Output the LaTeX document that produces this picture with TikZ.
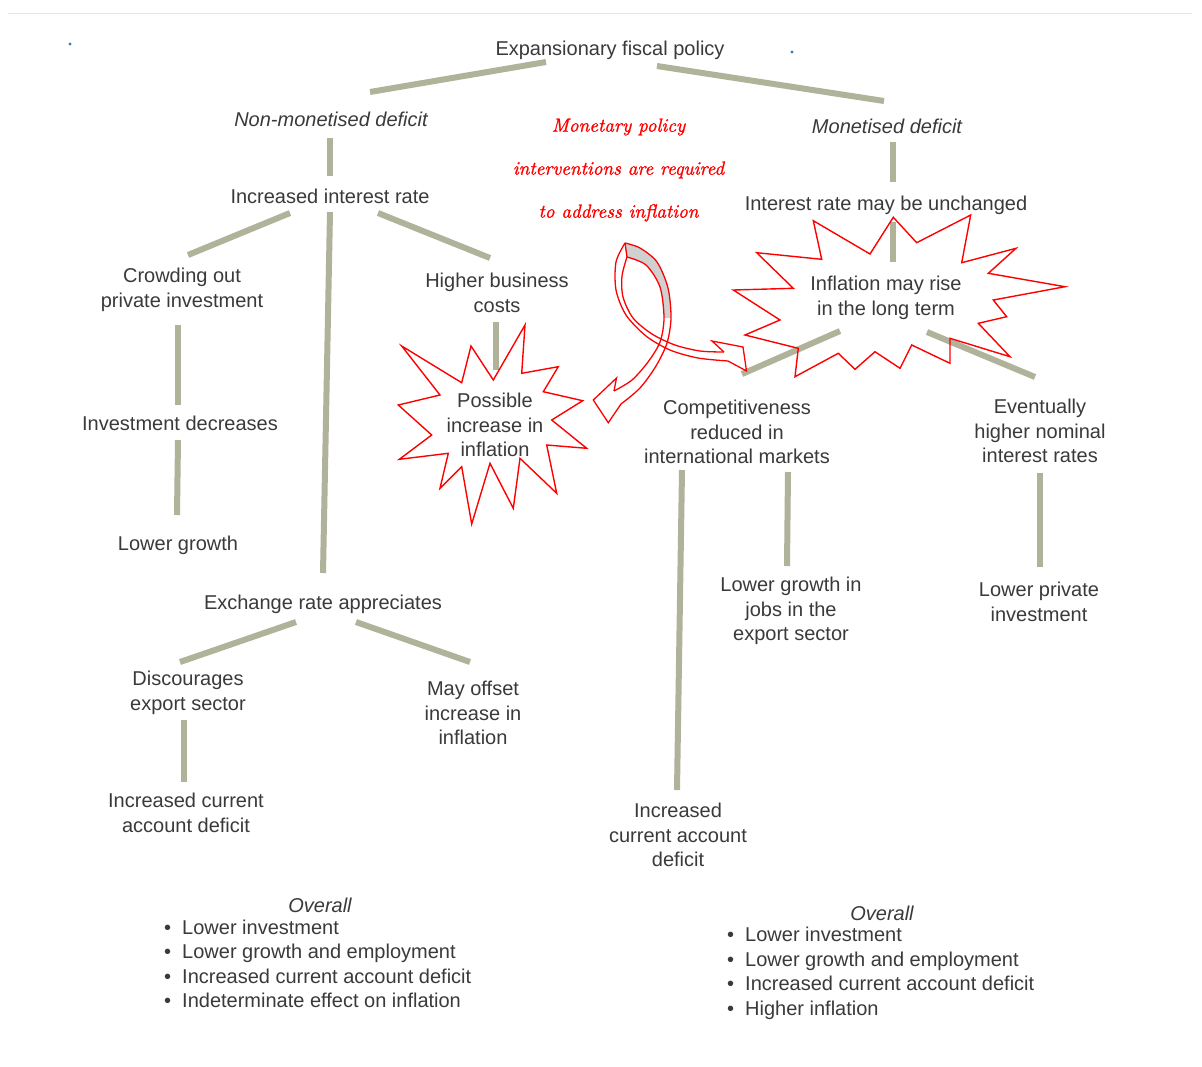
\documentclass[tikz,border=0pt]{standalone}
\usepackage{fontspec}
\newfontfamily\diagfont{Liberation Sans}
\newfontfamily\handfont{lmroman10-italic.otf}[FakeBold=1.2]
\definecolor{textgray}{HTML}{3A3A3A}
\definecolor{conncol}{HTML}{B0B29A}
\definecolor{ribbongray}{HTML}{D0D0D0}
\definecolor{dotblue}{HTML}{2F7FC0}
\begin{document}
\begin{tikzpicture}[x=1pt,y=-1pt,
  txt/.style={font=\diagfont\fontsize{20}{24.5}\selectfont, text=textgray, align=center, inner sep=0pt},
  itx/.style={font=\diagfont\itshape\fontsize{20}{24.5}\selectfont, text=textgray, align=center, inner sep=0pt},
  conn/.style={draw=conncol, line width=6pt},
  burst/.style={draw=red, line width=1.4pt, line join=miter},
  ribbon/.style={draw=red, line width=1.3pt},
  hand/.style={font=\handfont\fontsize{19}{43}\selectfont, text=red, align=center, inner sep=0pt}
]
\useasboundingbox[fill=white] (0,0) rectangle (1202,1066);
\draw[gray!20, line width=1pt] (8,13) -- (1192,13);
\fill[dotblue] (70,44) circle (1.6);
\fill[dotblue] (792,52) circle (1.6);

% ---------- text nodes ----------
\node[txt] (efp) at (610,50) {Expansionary fiscal policy};
\node[itx] (nmd) at (331,119) {Non-monetised deficit};
\node[itx] (md) at (887,126) {Monetised deficit};
\node[txt] (iir) at (330,196) {Increased interest rate};
\node[txt] (irmu) at (886,205) {Interest rate may be unchanged};
\node[txt] (crowd) at (182,290) {Crowding out\\private investment};
\node[txt] (hbc) at (497,293) {Higher business\\costs};
\node[txt] (infl) at (886,298) {Inflation may rise\\in the long term};
\node[txt] (possible) at (495,425) {Possible\\increase in\\inflation};
\node[txt] (invdec) at (180,423) {Investment decreases};
\node[txt] (comp) at (737,432) {Competitiveness\\reduced in\\international markets};
\node[txt] (event) at (1040,431) {Eventually\\higher nominal\\interest rates};
\node[txt] (lowgr) at (178,545) {Lower growth};
\node[txt] (exch) at (323,604) {Exchange rate appreciates};
\node[txt] (lgjobs) at (791,611) {Lower growth in\\jobs in the\\export sector};
\node[txt] (lpi) at (1039,602) {Lower private\\investment};
\node[txt] (disc) at (188,693) {Discourages\\export sector};
\node[txt] (mayoff) at (473,713) {May offset\\increase in\\inflation};
\node[txt] (icadl) at (186,813) {Increased current\\account deficit};
\node[txt] (icadr) at (678,835) {Increased\\current account\\deficit};

\node[itx] (ovl) at (320,905) {Overall};
\node[txt, anchor=west] (listl) at (164,966) {\renewcommand\arraystretch{1}\begin{tabular}{@{}l@{\hspace{11pt}}l@{}}
• & Lower investment\\
• & Lower growth and employment\\
• & Increased current account deficit\\
• & Indeterminate effect on inflation
\end{tabular}};
\node[itx] (ovr) at (882,913) {Overall};
\node[txt, anchor=west] (listr) at (727,973.5) {\renewcommand\arraystretch{1}\begin{tabular}{@{}l@{\hspace{11pt}}l@{}}
• & Lower investment\\
• & Lower growth and employment\\
• & Increased current account deficit\\
• & Higher inflation
\end{tabular}};

% ---------- connectors ----------
\coordinate (c1a) at (546,62);   \coordinate (c1b) at (370,92);
\coordinate (c2a) at (657,66);   \coordinate (c2b) at (884,101);
\coordinate (c3a) at (330,138);  \coordinate (c3b) at (330,176);
\coordinate (c4a) at (893,142);  \coordinate (c4b) at (893,182);
\coordinate (c5a) at (290,213);  \coordinate (c5b) at (188,255);
\coordinate (c6a) at (330,212);  \coordinate (c6b) at (323,573);
\coordinate (c7a) at (378,213);  \coordinate (c7b) at (490,258);
\coordinate (c8a) at (178,325);  \coordinate (c8b) at (178,405);
\coordinate (c9a) at (178,440);  \coordinate (c9b) at (177,515);
\coordinate (c10a) at (496,322); \coordinate (c10b) at (496,370);
\coordinate (c11a) at (893,222); \coordinate (c11b) at (893,262);
\coordinate (c12a) at (840,331); \coordinate (c12b) at (742,374);
\coordinate (c13a) at (927,332); \coordinate (c13b) at (1035,377);
\coordinate (c14a) at (682,470); \coordinate (c14b) at (677,790);
\coordinate (c15a) at (788,472); \coordinate (c15b) at (787,566);
\coordinate (c16a) at (1040,473);\coordinate (c16b) at (1040,567);
\coordinate (c17a) at (296,622); \coordinate (c17b) at (180,662);
\coordinate (c18a) at (356,622); \coordinate (c18b) at (470,662);
\coordinate (c19a) at (184,720); \coordinate (c19b) at (184,782);
\foreach \i in {1,...,19}{\draw[conn] (c\i a) -- (c\i b);}

% ---------- starbursts ----------
\draw[burst] (401.7,346) -- (461.7,382.7) -- (471,346) -- (493.3,380) -- (525,325) -- (521.7,373.3)
  -- (558.3,366.7) -- (543.3,391.7) -- (582.7,400.7) -- (551.7,420) -- (586.7,448.3) -- (546.7,445)
  -- (556.7,493.3) -- (520,458.3) -- (513.3,508.3) -- (490,463.3) -- (471.7,524) -- (461.7,466.7)
  -- (440,488.3) -- (448.3,453.3) -- (399.3,459.3) -- (431.7,435) -- (398.3,405) -- (440,395) -- cycle;
\draw[burst] (733.3,290) -- (793.3,288.3) -- (756.7,252.7) -- (821.7,259.3) -- (813.3,220.7) -- (870,254)
  -- (893.3,217.3) -- (916.7,242.7) -- (970.7,215) -- (961.7,262.7) -- (1016,248.3) -- (988.3,273.3)
  -- (1065,286.7) -- (993.3,300) -- (1006.7,316.7) -- (978.3,323.3) -- (1010,356.7) -- (950,338.3)
  -- (950,363.3) -- (911.7,345) -- (900,368.3) -- (875,351.7) -- (855,369.3) -- (838.3,353.3)
  -- (795,376.7) -- (798.3,348.3) -- (745,335) -- (780,320) -- cycle;

% ---------- handwritten note ----------
\node[hand] (note) at (618.5,170) {Monetary policy\\interventions are required\\to address inflation};

% ---------- curved double arrow ----------
\fill[ribbongray] plot[smooth] coordinates {(625,243) (640,248) (657,262) (668,288) (671,318)}
  -- plot[smooth] coordinates {(664,318) (660,287) (646,265) (627,257)} -- cycle;
\draw[ribbon] plot[smooth] coordinates {(625,243) (616,262) (616,290) (626,315) (646,336) (670,350) (698,358) (728,361)};
\draw[ribbon] plot[smooth] coordinates {(627,257) (622,276) (623,297) (633,318) (652,334) (675,345) (700,351) (724,352)};
\draw[ribbon] plot[smooth] coordinates {(625,243) (640,248) (657,262) (668,288) (671,318) (667,343) (656,366) (640,388) (621,404)};
\draw[ribbon] plot[smooth] coordinates {(627,257) (646,265) (660,287) (664,318) (660,342) (648,362) (632,380) (614,391)};
\draw[ribbon] (625,243) -- (627,257);
\draw[ribbon, line join=miter] (724,352) -- (712,341) -- (743,347) -- (746.5,371) -- (728,361);
\draw[ribbon, line join=miter] (614,391) -- (616.5,378) -- (593.3,400) -- (608.3,422.7) -- (621,404);
\end{tikzpicture}
\end{document}
